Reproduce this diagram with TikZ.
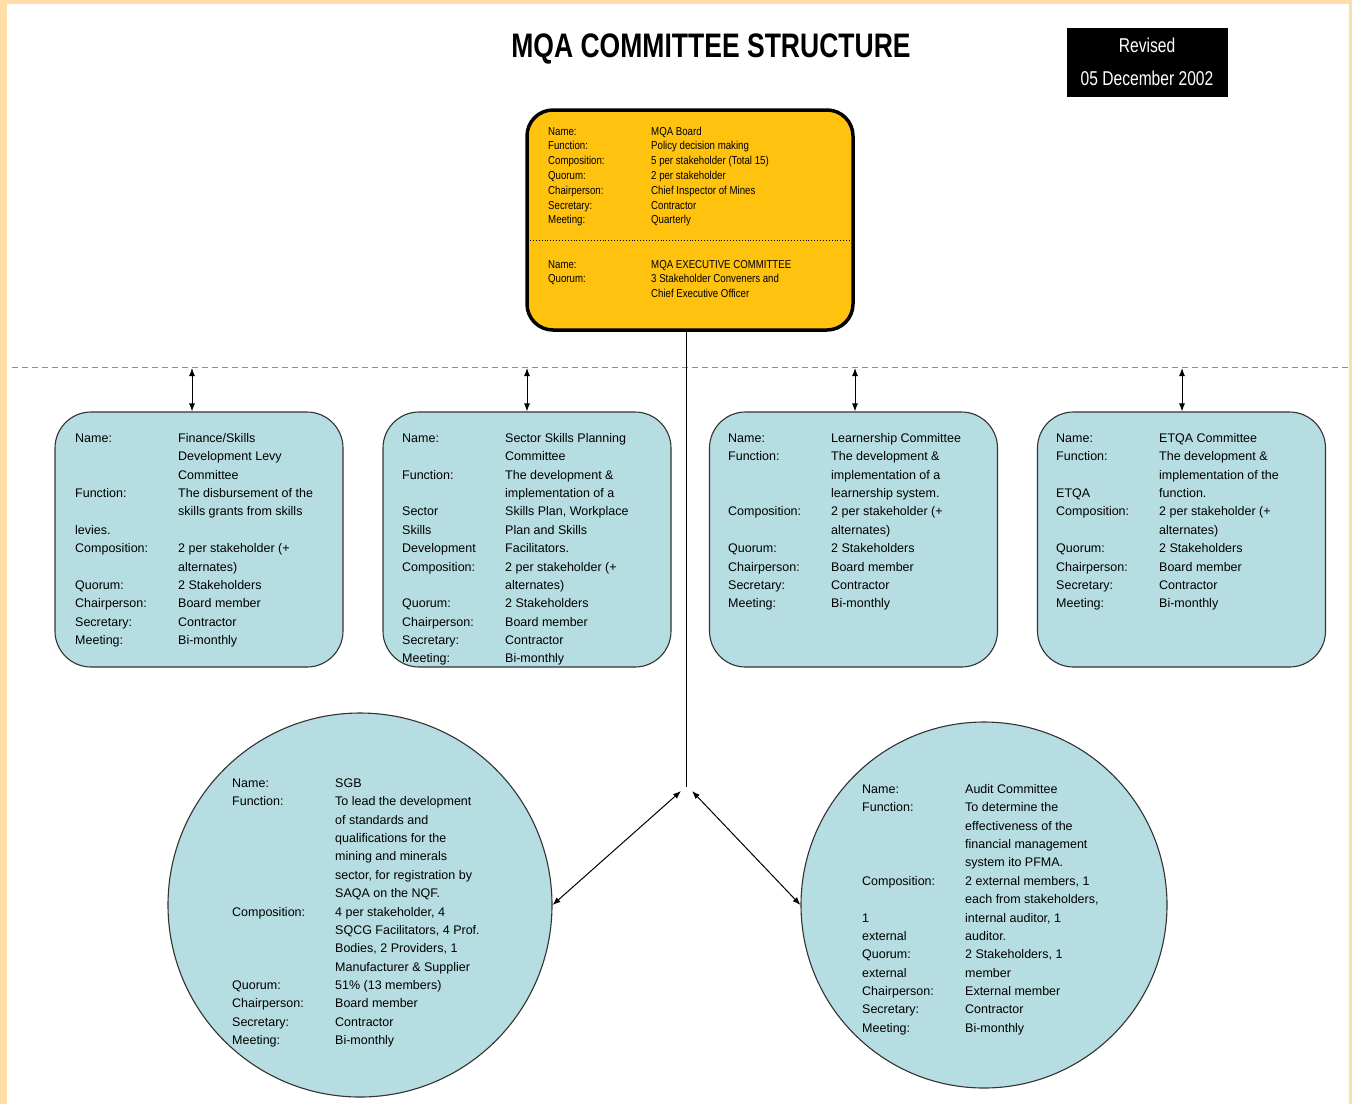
\documentclass[tikz,border=0pt]{standalone}
\usepackage{fontspec}
\setmainfont{Liberation Sans}
\newfontfamily\condfont[FakeStretch=0.78]{Liberation Sans}
\newfontfamily\boardfont[FakeStretch=0.84]{Liberation Sans}
\usetikzlibrary{arrows.meta}
\definecolor{peach}{RGB}{255,221,168}
\definecolor{boardgold}{RGB}{255,194,14}
\definecolor{tealfill}{RGB}{182,221,225}
\newcommand\infotab[2]{\begin{tabular}[t]{@{}p{#1}@{}l@{}}#2\end{tabular}}
\begin{document}
\begin{tikzpicture}[x=1pt,y=-1pt,
  tealbox/.style={rectangle, draw=black!80, line width=1.1pt, fill=tealfill,
    rounded corners=36pt, minimum width=288pt, minimum height=255pt, inner sep=0pt},
  tealcirc/.style={circle, draw=black!80, line width=1.1pt, fill=tealfill, inner sep=0pt},
  boardbox/.style={rectangle, draw=black, line width=3.5pt, fill=boardgold,
    rounded corners=26pt, minimum width=326pt, minimum height=220pt, inner sep=0pt},
  info/.style={anchor=base west, inner sep=0pt, font=\fontsize{12.5}{18.36}\selectfont},
  boardinfo/.style={anchor=base west, inner sep=0pt, font=\boardfont\fontsize{11.5}{14.8}\selectfont},
  dbl/.style={{Latex[length=8pt,width=6pt]}-{Latex[length=8pt,width=6pt]}, line width=1pt},
  link/.style={line width=1pt}
]
\useasboundingbox (0,0) rectangle (1352,1104);
\fill[peach] (0,0) rectangle (1352,1104);
\fill[white] (7,4) rectangle (1349,1104);

% title and revision box
\node[font=\condfont\bfseries\fontsize{34}{40}\selectfont, inner sep=0pt] (title) at (711,49) {MQA COMMITTEE STRUCTURE};
\node[fill=black, minimum width=161pt, minimum height=69pt, inner sep=0pt] (rev) at (1147.5,62.5) {};
\node[font=\condfont\fontsize{20}{24}\selectfont, text=white, inner sep=0pt] (revA) at (1147,45) {Revised};
\node[font=\condfont\fontsize{20}{24}\selectfont, text=white, inner sep=0pt] (revB) at (1147,78) {05 December 2002};

% board
\node[boardbox] (board) at (690,220) {};
\draw[dotted, line width=0.9pt] (530,240) -- (851,240);
\node[boardinfo] (boardtxtA) at (548,135) {\infotab{103pt}{%
Name: & MQA Board\\
Function: & Policy decision making\\
Composition: & 5 per stakeholder (Total 15)\\
Quorum: & 2 per stakeholder\\
Chairperson: & Chief Inspector of Mines\\
Secretary: & Contractor\\
Meeting: & Quarterly}};
\node[boardinfo] (boardtxtB) at (548,268) {\infotab{103pt}{%
Name: & MQA EXECUTIVE COMMITTEE\\
Quorum: & 3 Stakeholder Conveners and\\
 & Chief Executive Officer}};

% dashed separator
\draw[dashed, draw=black!45, line width=0.8pt, dash pattern=on 6pt off 4pt] (12,367) -- (1350,367);

% committee boxes
\node[tealbox] (fin) at (199,539.5) {};
\node[tealbox] (ssp) at (527,539.5) {};
\node[tealbox] (lrn) at (853.5,539.5) {};
\node[tealbox] (etqa) at (1181.5,539.5) {};

\coordinate (d1) at (192,368);
\coordinate (d2) at (527,368);
\coordinate (d3) at (855,368);
\coordinate (d4) at (1182,368);
\draw[dbl] (d1) -- (d1 |- fin.north);
\draw[dbl] (d2) -- (d2 |- ssp.north);
\draw[dbl] (d3) -- (d3 |- lrn.north);
\draw[dbl] (d4) -- (d4 |- etqa.north);

\node[info] (fintxt) at (75,442.5) {\infotab{103pt}{%
Name: & Finance/Skills\\
 & Development Levy\\
 & Committee\\
Function: & The disbursement of the\\
 & skills grants from skills\\
levies. & \\
Composition: & 2 per stakeholder (+\\
 & alternates)\\
Quorum: & 2 Stakeholders\\
Chairperson: & Board member\\
Secretary: & Contractor\\
Meeting: & Bi-monthly}};

\node[info] (ssptxt) at (402,442.5) {\infotab{103pt}{%
Name: & Sector Skills Planning\\
 & Committee\\
Function: & The development \&\\
 & implementation of a\\
Sector & Skills Plan, Workplace\\
Skills & Plan and Skills\\
Development & Facilitators.\\
Composition: & 2 per stakeholder (+\\
 & alternates)\\
Quorum: & 2 Stakeholders\\
Chairperson: & Board member\\
Secretary: & Contractor\\
Meeting: & Bi-monthly}};

\node[info] (lrntxt) at (728,442.5) {\infotab{103pt}{%
Name: & Learnership Committee\\
Function: & The development \&\\
 & implementation of a\\
 & learnership system.\\
Composition: & 2 per stakeholder (+\\
 & alternates)\\
Quorum: & 2 Stakeholders\\
Chairperson: & Board member\\
Secretary: & Contractor\\
Meeting: & Bi-monthly}};

\node[info] (etqatxt) at (1056,442.5) {\infotab{103pt}{%
Name: & ETQA Committee\\
Function: & The development \&\\
 & implementation of the\\
ETQA & function.\\
Composition: & 2 per stakeholder (+\\
 & alternates)\\
Quorum: & 2 Stakeholders\\
Chairperson: & Board member\\
Secretary: & Contractor\\
Meeting: & Bi-monthly}};

% circles
\node[tealcirc, minimum size=384pt] (sgb) at (360,905) {};
\node[tealcirc, minimum size=366pt] (audit) at (984,905) {};

\node[info] (sgbtxt) at (232,787.5) {\infotab{103pt}{%
Name: & SGB\\
Function: & To lead the development\\
 & of standards and\\
 & qualifications for the\\
 & mining and minerals\\
 & sector, for registration by\\
 & SAQA on the NQF.\\
Composition: & 4 per stakeholder, 4\\
 & SQCG Facilitators, 4 Prof.\\
 & Bodies, 2 Providers, 1\\
 & Manufacturer \& Supplier\\
Quorum: & 51\% (13 members)\\
Chairperson: & Board member\\
Secretary: & Contractor\\
Meeting: & Bi-monthly}};

\node[info] (audittxt) at (862,793.5) {\infotab{103pt}{%
Name: & Audit Committee\\
Function: & To determine the\\
 & effectiveness of the\\
 & financial management\\
 & system ito PFMA.\\
Composition: & 2 external members, 1\\
 & each from stakeholders,\\
1 & internal auditor, 1\\
external & auditor.\\
Quorum: & 2 Stakeholders, 1\\
external & member\\
Chairperson: & External member\\
Secretary: & Contractor\\
Meeting: & Bi-monthly}};

% central connector
\coordinate (j) at (686,787);
\coordinate (jl) at (681,791);
\coordinate (jr) at (692,791);
\draw[link] (j |- board.south) -- (j);
\draw[dbl] (jl) -- (sgb.east);
\draw[dbl] (jr) -- (audit.west);
\end{tikzpicture}
\end{document}
